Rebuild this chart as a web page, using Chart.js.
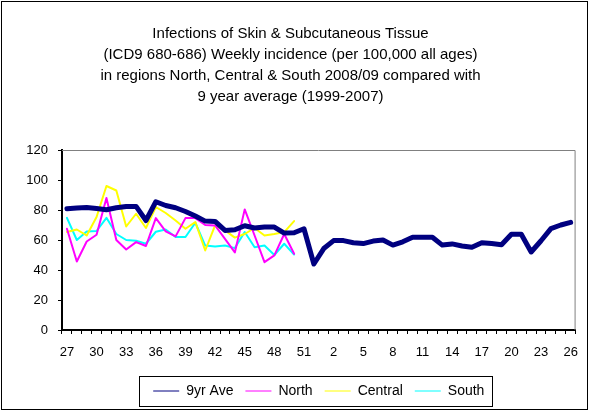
<!DOCTYPE html>
<html>
<head>
<meta charset="utf-8">
<script src="https://cdn.jsdelivr.net/npm/chart.js@4/dist/chart.umd.min.js"></script>
<style>
  html, body { margin: 0; padding: 0; background: #fff; }
  #wrap { width: 589px; height: 411px; }
</style>
</head>
<body>
<div id="wrap"><canvas id="chart" width="589" height="411"></canvas></div>
<script>
// 週 (27〜52, 1〜26)
const weeks = [27, 28, 29, 30, 31, 32, 33, 34, 35, 36, 37, 38, 39, 40, 41, 42, 43, 44, 45, 46, 47, 48, 49, 50, 51, 52,
  1, 2, 3, 4, 5, 6, 7, 8, 9, 10, 11, 12, 13, 14, 15, 16, 17, 18, 19, 20, 21, 22, 23, 24, 25, 26];

// 9年平均 (1999-2007)
const ave9yr = [80.8, 81.3, 81.7, 81, 80.2, 81.5, 82.4, 82.4, 73, 85.5, 83, 81.5, 79, 76, 72.6, 72.4,
  66.4, 66.8, 69.5, 68, 68.6, 68.6, 64.6, 64.8, 67.5, 44,
  54.3, 59.6, 59.6, 58.2, 57.6, 59.3, 60, 56.6, 58.8, 61.8, 61.8, 61.8, 56.6, 57.4, 56, 55.1,
  58.2, 57.6, 56.8, 63.8, 63.8, 52, 59.5, 67.6, 70, 71.8];

// 2008/09 地域別
const north = [67.5, 45.7, 59, 63.5, 88, 60, 53.7, 58.6, 56, 74.6, 65.7, 62.4, 74.6, 74.6, 70, 69.7,
  60.8, 51.7, 80.4, 63, 45.2, 49.7, 64, 50.8];
const central = [65.3, 67, 63, 75.3, 96, 93, 69, 77.5, 68, 82, 78, 73, 67.5, 72, 53, 69.7,
  66.4, 61.6, 64, 68, 63, 64, 65.3, 72.6];
const south = [74.8, 60, 65.7, 66, 74.8, 64, 60, 59.5, 57.5, 65.5, 67, 62, 62, 71.5, 56.3, 55.7,
  56.3, 54.6, 65.3, 55.2, 56.3, 50, 57.5, 50.3];

const yTicks = [0, 20, 40, 60, 80, 100, 120];

const titleLines = [
  'Infections of Skin & Subcutaneous Tissue',
  '(ICD9 680-686) Weekly incidence (per 100,000 all ages)',
  'in regions North, Central & South 2008/09 compared with',
  '9 year average (1999-2007)'
];

const FONT = "'Liberation Sans', Arial, sans-serif";

// 枠線を描くプラグイン
const framePlugin = {
  id: 'frame',
  beforeDatasetsDraw(chart) {
    const { ctx, chartArea: a } = chart;
    ctx.save();
    ctx.strokeStyle = '#808080';
    ctx.lineWidth = 1;
    ctx.beginPath();
    ctx.moveTo(a.left, a.top + 0.5);
    ctx.lineTo(a.right - 0.5, a.top + 0.5);
    ctx.lineTo(a.right - 0.5, a.bottom);
    ctx.stroke();
    ctx.restore();
  },
  afterDraw(chart) {
    const { ctx } = chart;
    ctx.save();
    ctx.strokeStyle = '#000';
    ctx.lineWidth = 1;
    ctx.strokeRect(1.5, 1.5, chart.width - 3, chart.height - 3);
    // 凡例の枠
    const boxes = chart.legend.legendHitBoxes;
    if (boxes && boxes.length) {
      const first = boxes[0];
      const last = boxes[boxes.length - 1];
      const left = Math.round(first.left - 14) + 0.5;
      const right = Math.round(last.left + last.width + 8) + 0.5;
      const top = Math.round(first.top - 8) + 0.5;
      const bottom = Math.round(first.top + first.height + 8) + 0.5;
      ctx.strokeRect(left, top, right - left, bottom - top);
    }
    ctx.restore();
  }
};

new Chart(document.getElementById('chart'), {
  type: 'line',
  data: {
    labels: weeks,
    datasets: [
      { label: '9yr Ave', data: ave9yr, borderColor: '#000080', backgroundColor: '#000080', borderWidth: 5 },
      { label: 'North', data: north, borderColor: '#FF00FF', backgroundColor: '#FF00FF', borderWidth: 2 },
      { label: 'Central', data: central, borderColor: '#FFFF00', backgroundColor: '#FFFF00', borderWidth: 2 },
      { label: 'South', data: south, borderColor: '#00FFFF', backgroundColor: '#00FFFF', borderWidth: 2 }
    ]
  },
  options: {
    responsive: false,
    animation: false,
    devicePixelRatio: 1,
    layout: { padding: { left: 4, right: 12, top: 0, bottom: 3 } },
    elements: {
      point: { radius: 0 },
      line: { tension: 0, borderJoinStyle: 'round', borderCapStyle: 'round' }
    },
    plugins: {
      title: {
        display: true,
        text: titleLines,
        color: '#000',
        font: { family: FONT, size: 15, weight: 'normal', lineHeight: 1.4 },
        padding: { top: 23, bottom: 43 }
      },
      legend: {
        position: 'bottom',
        fullSize: false,
        labels: {
          color: '#000',
          font: { family: FONT, size: 14 },
          usePointStyle: true,
          pointStyle: 'line',
          pointStyleWidth: 26,
          padding: 12,
          generateLabels(chart) {
            const items = Chart.defaults.plugins.legend.labels.generateLabels(chart);
            items.forEach(it => { it.lineWidth = 1; it.pointStyle = 'line'; });
            return items;
          }
        }
      },
      tooltip: { enabled: false }
    },
    scales: {
      x: {
        type: 'category',
        offset: true,
        afterFit(scale) { scale.height = 42; },
        border: { display: true, color: '#000', width: 2 },
        grid: {
          display: true,
          offset: true,
          drawOnChartArea: false,
          drawTicks: true,
          tickLength: 4,
          color: '#000'
        },
        ticks: {
          autoSkip: false,
          maxRotation: 0,
          padding: 11,
          color: '#000',
          font: { family: FONT, size: 13 },
          callback(value, index) {
            return index % 3 === 0 ? String(weeks[index]) : '';
          }
        }
      },
      y: {
        min: yTicks[0],
        max: yTicks[yTicks.length - 1],
        afterFit(scale) { scale.width = 58; },
        afterBuildTicks(scale) { scale.ticks = yTicks.map(v => ({ value: v })); },
        border: { display: true, color: '#000', width: 2 },
        grid: {
          display: true,
          drawOnChartArea: false,
          drawTicks: true,
          tickLength: 4,
          color: '#000'
        },
        ticks: {
          padding: 10,
          color: '#000',
          font: { family: FONT, size: 13 }
        }
      }
    }
  },
  plugins: [framePlugin]
});
</script>
</body>
</html>
